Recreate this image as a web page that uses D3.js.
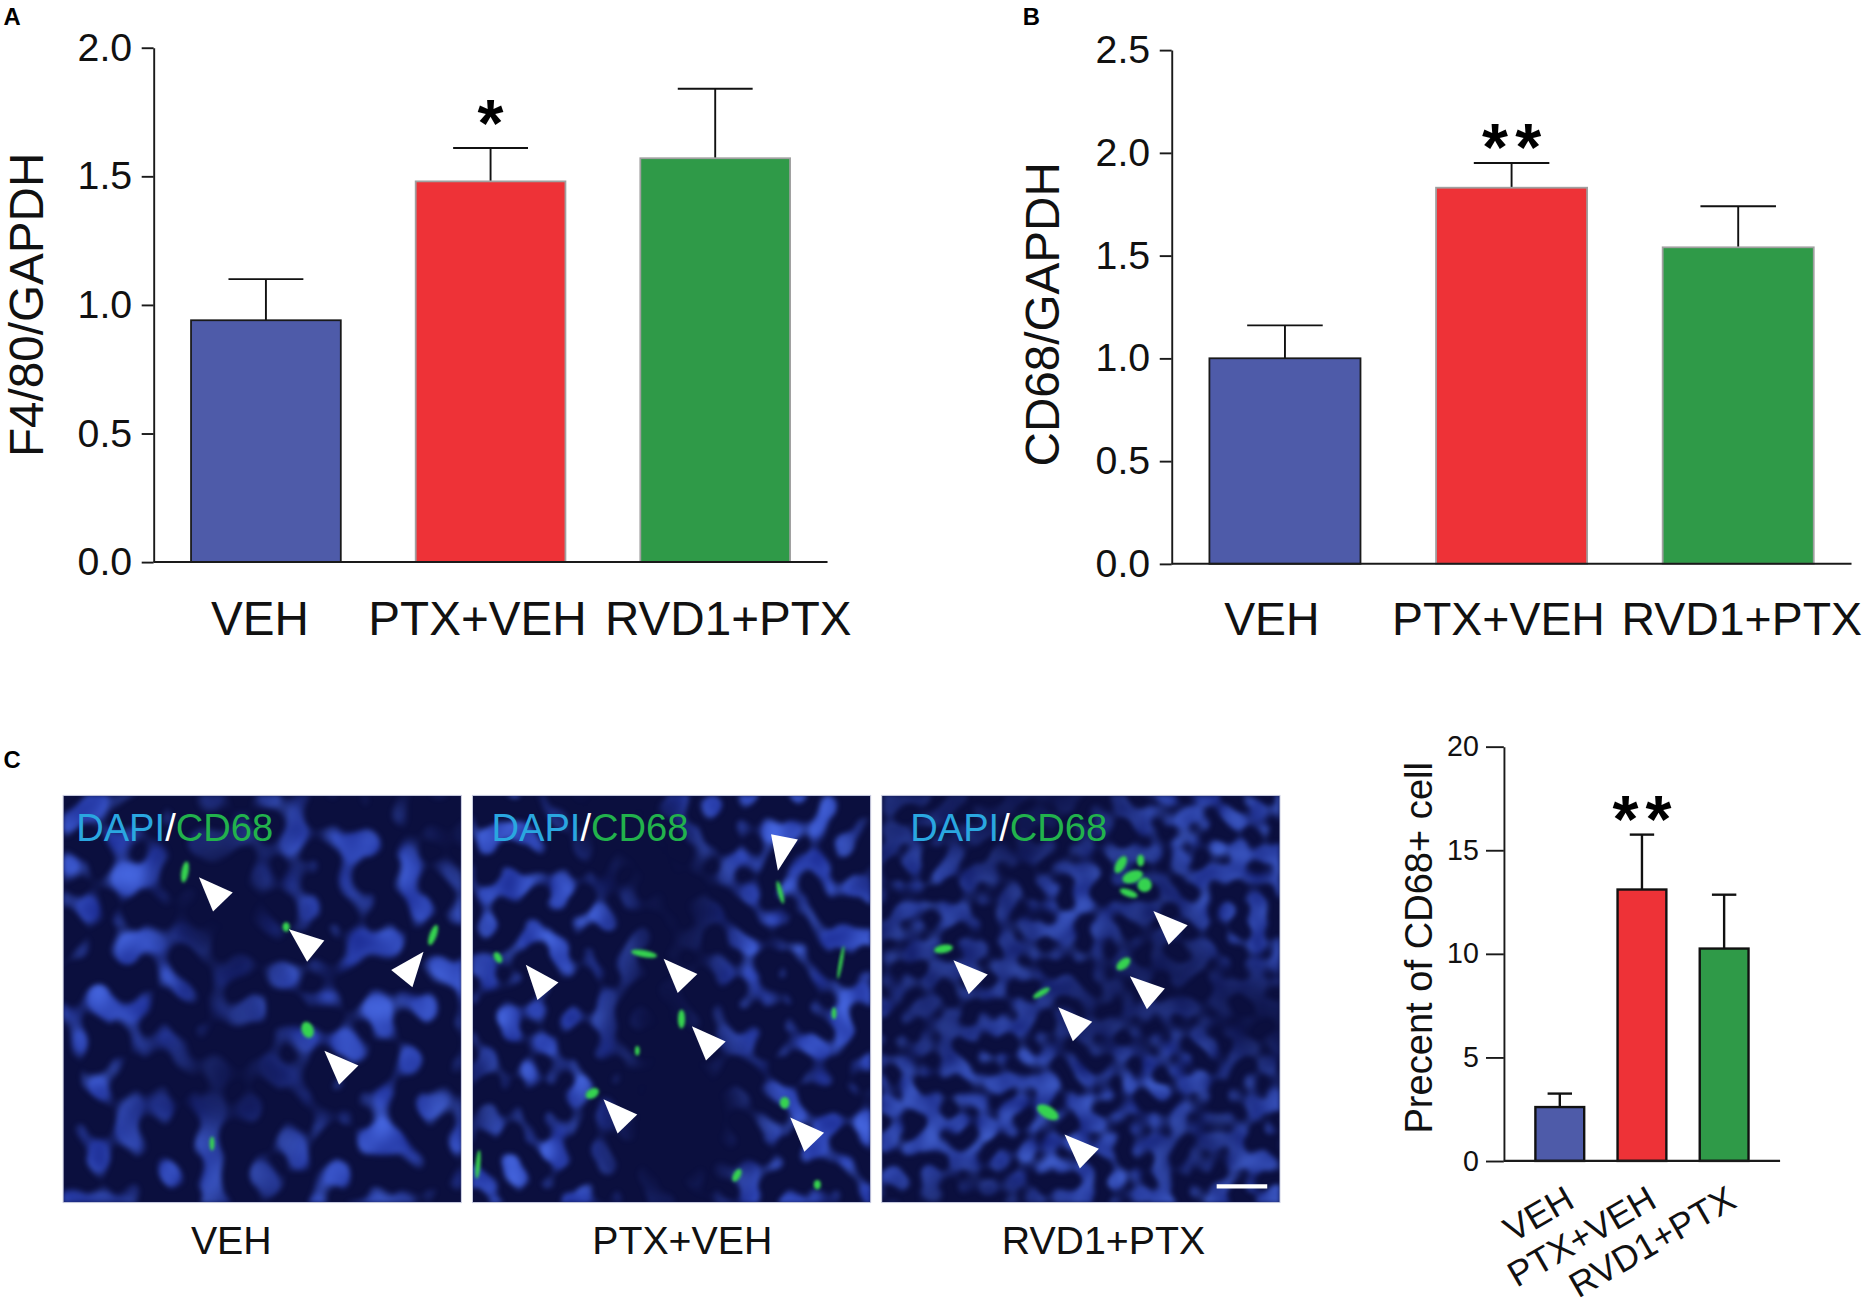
<!DOCTYPE html>
<html>
<head>
<meta charset="utf-8">
<script src="https://cdn.jsdelivr.net/npm/d3@7"></script>
<style>
	html, body { margin: 0; padding: 0; background: #fff; }
	svg { display: block; font-family: Arial, "Liberation Sans", sans-serif; }
</style>
</head>
<body>
<div id="fig"></div>
<script>
// ---------- data ----------
const groups = ['VEH', 'PTX+VEH', 'RVD1+PTX'];

// A: F4/80 / GAPDH
const f480Mean = [0.94, 1.48, 1.57];
const f480Sem = [0.16, 0.13, 0.27];
const f480Ticks = [0, 0.5, 1.0, 1.5, 2.0];
const f480Sig = ['', '*', ''];

// B: CD68 / GAPDH
const cd68Mean = [1.00, 1.83, 1.54];
const cd68Sem = [0.16, 0.12, 0.20];
const cd68Ticks = [0, 0.5, 1.0, 1.5, 2.0, 2.5];
const cd68Sig = ['', '**', ''];

// C: percent of CD68+ cells
const cellMean = [2.6, 13.1, 10.25];
const cellSem = [0.65, 2.65, 2.6];
const cellTicks = [0, 5, 10, 15, 20];
const cellSig = ['', '**', ''];

// C micrographs: arrowhead tips (fraction of image) and pointing angle (deg)
const arrowsVEH = [[0.341, 0.201, -134], [0.567, 0.329, -141], [0.905, 0.384, -51], [0.656, 0.627, -135]];
const arrowsPTX = [[0.767, 0.185, 101], [0.134, 0.416, -130], [0.480, 0.401, -134], [0.551, 0.567, -134], [0.329, 0.746, -134], [0.798, 0.791, -134]];
const arrowsRVD = [[0.682, 0.284, -136], [0.180, 0.405, -136], [0.623, 0.444, -139], [0.443, 0.520, -135], [0.459, 0.833, -136]];

// CD68+ (green) spots: fx, fy, rx, ry, rotation
const spotsVEH = [[0.306, 0.188, 3, 9, 10], [0.560, 0.323, 3, 4, 0], [0.929, 0.343, 3, 9, 20], [0.614, 0.576, 5, 7, -20], [0.374, 0.855, 2, 6, 0]];
const spotsPTX = [[0.431, 0.389, 11, 3, 10], [0.773, 0.238, 2, 10, -15], [0.064, 0.398, 3, 5, -30], [0.525, 0.549, 3, 8, 0], [0.301, 0.732, 6, 4, -30],
	[0.784, 0.755, 4, 5, 0], [0.414, 0.627, 2, 4, 0], [0.664, 0.933, 3, 6, 30], [0.866, 0.956, 3, 4, 0], [0.908, 0.535, 2, 5, 0], [0.014, 0.906, 2, 12, 5], [0.925, 0.41, 1.5, 14, 10]];
const spotsRVD = [[0.60, 0.17, 4, 8, 30], [0.63, 0.20, 9, 5, -20], [0.66, 0.22, 6, 6, 0], [0.62, 0.24, 8, 3, 20], [0.65, 0.16, 3, 5, 0],
	[0.155, 0.377, 8, 3.5, -10], [0.607, 0.414, 7, 4, -40], [0.401, 0.485, 8, 2.5, -30], [0.417, 0.778, 10, 5, 30]];

// ---------- layout / style ----------
const W = 1568, H = 1096; // drawing units; shown at 1867 x 1305
const barColors = ['#4e5ba9', '#ee3237', '#2f9a48'];
const barStrokesAB = ['#1a1a1a', '#a0a0a0', '#a0a0a0'];

const svg = d3.select('#fig')
	.append('svg')
	.attr('width', 1867)
	.attr('height', 1305)
	.attr('viewBox', '0 0 ' + W + ' ' + H);

const defs = svg.append('defs');

function drawBars(cfg) {
	const g = svg.append('g').attr('class', 'panel panel_' + cfg.id);

	const x = d3.scaleBand()
		.domain(groups)
		.range(cfg.xRange)
		.paddingInner(cfg.padIn)
		.paddingOuter(cfg.padOut);
	const y = d3.scaleLinear()
		.domain(cfg.domain)
		.range(cfg.yRange);

	const rows = groups.map((k, i) => ({ key: k, i: i, mean: cfg.mean[i], sem: cfg.sem[i], sig: cfg.sig[i] }));

	// error bars (upper only)
	const eb = g.selectAll('.err').data(rows).enter().append('g').attr('class', 'err');
	eb.append('line')
		.attr('x1', d => x(d.key) + x.bandwidth() / 2)
		.attr('x2', d => x(d.key) + x.bandwidth() / 2)
		.attr('y1', d => y(d.mean))
		.attr('y2', d => y(d.mean + d.sem))
		.attr('stroke', '#111').attr('stroke-width', cfg.errW);
	eb.append('line')
		.attr('x1', d => x(d.key) + x.bandwidth() / 4)
		.attr('x2', d => x(d.key) + x.bandwidth() * 3 / 4)
		.attr('y1', d => y(d.mean + d.sem))
		.attr('y2', d => y(d.mean + d.sem))
		.attr('stroke', '#111').attr('stroke-width', cfg.errW);

	g.selectAll('.bar').data(rows).enter()
		.append('rect')
		.attr('class', 'bar')
		.attr('x', d => x(d.key))
		.attr('y', d => y(d.mean))
		.attr('width', x.bandwidth())
		.attr('height', d => y(0) - y(d.mean))
		.attr('fill', d => barColors[d.i])
		.attr('stroke', d => cfg.strokes[d.i])
		.attr('stroke-width', cfg.barW);

	// significance stars
	g.selectAll('.sig').data(rows.filter(d => d.sig)).enter()
		.append('text')
		.attr('class', 'sig')
		.attr('x', d => x(d.key) + x.bandwidth() / 2 + cfg.starDx)
		.attr('y', d => y(d.mean + d.sem) + cfg.starDy)
		.attr('text-anchor', 'middle')
		.attr('font-weight', 'bold')
		.attr('font-size', cfg.starSize)
		.attr('letter-spacing', cfg.starSpacing)
		.text(d => d.sig);

	// y axis
	const ax = g.append('g')
		.attr('transform', 'translate(' + cfg.xRange[0] + ',0)')
		.call(d3.axisLeft(y)
			.tickValues(cfg.ticks)
			.tickSize(cfg.tickLen)
			.tickSizeOuter(0)
			.tickPadding(cfg.tickPad)
			.tickFormat(cfg.fmt));
	ax.selectAll('path, line').attr('stroke', '#1a1a1a').attr('stroke-width', 1.6);
	ax.selectAll('text')
		.attr('font-size', cfg.tickFont)
		.attr('fill', '#111')
		.attr('font-family', 'Arial, "Liberation Sans", sans-serif');

	// x baseline
	g.append('line')
		.attr('x1', cfg.xRange[0]).attr('x2', cfg.xRange[1])
		.attr('y1', y(0)).attr('y2', y(0))
		.attr('stroke', '#1a1a1a').attr('stroke-width', 1.8);

	// category labels
	const lab = g.selectAll('.xlab').data(rows).enter()
		.append('text')
		.attr('class', 'xlab')
		.attr('font-size', cfg.labFont)
		.attr('fill', '#111')
		.text(d => d.key);
	if (cfg.rotate) {
		lab.attr('text-anchor', 'end')
			.attr('transform', d => 'translate(' + (x(d.key) + x.bandwidth() / 2 + cfg.labDx[d.i]) + ',' + (y(0) + cfg.labDy) + ') rotate(' + cfg.rotate + ')');
	} else {
		lab.attr('text-anchor', 'middle')
			.attr('x', d => x(d.key) + x.bandwidth() / 2 + cfg.labDx[d.i])
			.attr('y', y(0) + cfg.labDy);
	}

	// y title
	g.append('text')
		.attr('transform', 'translate(' + cfg.titlePos[0] + ',' + cfg.titlePos[1] + ') rotate(-90)')
		.attr('text-anchor', 'middle')
		.attr('font-size', cfg.titleFont)
		.attr('fill', '#111')
		.text(cfg.title);
}

drawBars({
	id: 'A', mean: f480Mean, sem: f480Sem, sig: f480Sig, ticks: f480Ticks,
	domain: [0, 2], yRange: [472, 40], xRange: [129, 695], padIn: 1 / 3, padOut: 1 / 6,
	fmt: d3.format('.1f'), tickLen: 10, tickPad: 8, tickFont: 33,
	strokes: barStrokesAB, barW: 1.5, errW: 1.6,
	starSize: 56, starSpacing: 0, starDx: 0, starDy: -2,
	labFont: 40, labDx: [-5, -11, 11], labDy: 61,
	title: 'F4/80/GAPDH', titleFont: 40, titlePos: [36, 256]
});

drawBars({
	id: 'B', mean: cd68Mean, sem: cd68Sem, sig: cd68Sig, ticks: cd68Ticks,
	domain: [0, 2.5], yRange: [473.5, 42], xRange: [984, 1555], padIn: 1 / 3, padOut: 1 / 6,
	fmt: d3.format('.1f'), tickLen: 10, tickPad: 8, tickFont: 33,
	strokes: barStrokesAB, barW: 1.5, errW: 1.6,
	starSize: 56, starSpacing: 6, starDx: 3, starDy: 6,
	labFont: 39, labDx: [-11, -11, 3], labDy: 60,
	title: 'CD68/GAPDH', titleFont: 40, titlePos: [889, 264]
});

drawBars({
	id: 'C', mean: cellMean, sem: cellSem, sig: cellSig, ticks: cellTicks,
	domain: [0, 20], yRange: [975, 627], xRange: [1263, 1495], padIn: 0.406, padOut: 0.384,
	fmt: d3.format('d'), tickLen: 15, tickPad: 6, tickFont: 24,
	strokes: ['#111', '#111', '#111'], barW: 2, errW: 2,
	starSize: 56, starSpacing: 6, starDx: 3, starDy: 6,
	labFont: 30, labDx: [14, 14, 12], labDy: 38, rotate: -30,
	title: 'Precent of CD68+ cell', titleFont: 32, titlePos: [1203, 796]
});

// ---------- micrographs ----------
const imgX = d3.scaleBand().domain(groups).range([53, 1075]).paddingInner(0.027);
const imgTop = 668, imgH = 342;
const frac = d3.scaleLinear(); // 0..1 -> box coordinates, ranges set per image

const micro = [
	{ key: 'VEH', arrows: arrowsVEH, spots: spotsVEH, inset: 11, capDx: -26, tex: { freq: '0.042 0.036', oct: 1, seed: 11, thr: 0.5, k: 9, blur: 1.8, mseed: 3, bright: 0.9 } },
	{ key: 'PTX+VEH', arrows: arrowsPTX, spots: spotsPTX, inset: 16, capDx: 9, tex: { freq: '0.05 0.045', oct: 1, seed: 27, thr: 0.5, k: 9, blur: 1.6, mseed: 8, bright: 0.9 } },
	{ key: 'RVD1+PTX', arrows: arrowsRVD, spots: spotsRVD, inset: 24, capDx: 19, tex: { freq: '0.062', oct: 1, seed: 5, thr: 0.43, k: 7, blur: 1.6, mseed: 21, bright: 0.8 } }
];

function dapiFilter(id, box, o) {
	const f = defs.append('filter')
		.attr('id', id)
		.attr('filterUnits', 'userSpaceOnUse')
		.attr('x', box.x).attr('y', box.y)
		.attr('width', box.w).attr('height', box.h)
		.attr('color-interpolation-filters', 'sRGB');
	f.append('feTurbulence')
		.attr('type', 'fractalNoise')
		.attr('baseFrequency', o.freq)
		.attr('numOctaves', o.oct)
		.attr('seed', o.seed)
		.attr('result', 'n');
	// nuclei: alpha from red channel, brightness from green channel
	const b = o.bright;
	f.append('feColorMatrix')
		.attr('in', 'n').attr('type', 'matrix')
		.attr('values', [
			0, 0.30 * b, 0, 0, 0.07 * b,
			0, 0.42 * b, 0, 0, 0.12 * b,
			0, 0.55 * b, 0, 0, 0.55 * b,
			o.k, 0, 0, 0, -o.k * o.thr].join(' '))
		.attr('result', 'c');
	// slow darker areas in the tissue
	f.append('feTurbulence')
		.attr('type', 'fractalNoise')
		.attr('baseFrequency', 0.008)
		.attr('numOctaves', 1)
		.attr('seed', o.mseed)
		.attr('result', 'm0');
	f.append('feColorMatrix')
		.attr('in', 'm0').attr('type', 'matrix')
		.attr('values', '0 0 0 0 0  0 0 0 0 0  0 0 0 0 0  4 0 0 0 -1.2')
		.attr('result', 'm');
	f.append('feComposite').attr('in', 'c').attr('in2', 'm').attr('operator', 'in').attr('result', 'cm');
	f.append('feGaussianBlur').attr('in', 'cm').attr('stdDeviation', o.blur);
}

const glow = defs.append('filter').attr('id', 'glow').attr('x', '-50%').attr('y', '-50%').attr('width', '200%').attr('height', '200%');
glow.append('feGaussianBlur').attr('stdDeviation', 1.4);

micro.forEach((m, idx) => {
	const box = { x: imgX(m.key), y: imgTop, w: imgX.bandwidth(), h: imgH };
	const fx = frac.copy().range([box.x, box.x + box.w]);
	const fy = frac.copy().range([box.y, box.y + box.h]);
	const g = svg.append('g').attr('class', 'micro');

	defs.append('clipPath').attr('id', 'clip' + idx)
		.append('rect').attr('x', box.x).attr('y', box.y).attr('width', box.w).attr('height', box.h);
	dapiFilter('dapi' + idx, box, m.tex);

	const inner = g.append('g').attr('clip-path', 'url(#clip' + idx + ')');
	inner.append('rect')
		.attr('x', box.x).attr('y', box.y).attr('width', box.w).attr('height', box.h)
		.attr('fill', '#0b0f3e');
	inner.append('rect')
		.attr('x', box.x).attr('y', box.y).attr('width', box.w).attr('height', box.h)
		.attr('fill', '#000')
		.attr('filter', 'url(#dapi' + idx + ')');

	inner.selectAll('.spot').data(m.spots).enter()
		.append('ellipse')
		.attr('class', 'spot')
		.attr('cx', d => fx(d[0])).attr('cy', d => fy(d[1]))
		.attr('rx', d => d[2]).attr('ry', d => d[3])
		.attr('transform', d => 'rotate(' + d[4] + ',' + fx(d[0]) + ',' + fy(d[1]) + ')')
		.attr('fill', '#36d34f')
		.attr('filter', 'url(#glow)');

	inner.selectAll('.arrow').data(m.arrows).enter()
		.append('path')
		.attr('class', 'arrow')
		.attr('d', 'M0,0L-29,-11.5L-29,11.5Z')
		.attr('transform', d => 'translate(' + fx(d[0]) + ',' + fy(d[1]) + ') rotate(' + d[2] + ')')
		.attr('fill', '#fff');

	const t = inner.append('text')
		.attr('x', box.x + m.inset)
		.attr('y', box.y + 38)
		.attr('font-size', 32);
	t.append('tspan').attr('fill', '#2aa7e0').text('DAPI');
	t.append('tspan').attr('fill', '#ffffff').text('/');
	t.append('tspan').attr('fill', '#22b24c').text('CD68');

	if (idx === 2) {
		inner.append('line')
			.attr('x1', fx(0.841)).attr('x2', fx(0.968))
			.attr('y1', fy(0.96)).attr('y2', fy(0.96))
			.attr('stroke', '#fff').attr('stroke-width', 3.5);
	}

	g.append('rect')
		.attr('x', box.x).attr('y', box.y).attr('width', box.w).attr('height', box.h)
		.attr('fill', 'none').attr('stroke', '#c8cbe0').attr('stroke-width', 0.8);

	g.append('text')
		.attr('x', box.x + box.w / 2 + m.capDx)
		.attr('y', 1053)
		.attr('text-anchor', 'middle')
		.attr('font-size', 33)
		.attr('fill', '#111')
		.text(m.key);
});

// panel letters
const letters = [['A', 3, 21], ['B', 859, 21], ['C', 3, 645]];
svg.selectAll('.plabel').data(letters).enter()
	.append('text')
	.attr('class', 'plabel')
	.attr('x', d => d[1]).attr('y', d => d[2])
	.attr('font-size', 20)
	.attr('font-weight', 'bold')
	.text(d => d[0]);
</script>
</body>
</html>
